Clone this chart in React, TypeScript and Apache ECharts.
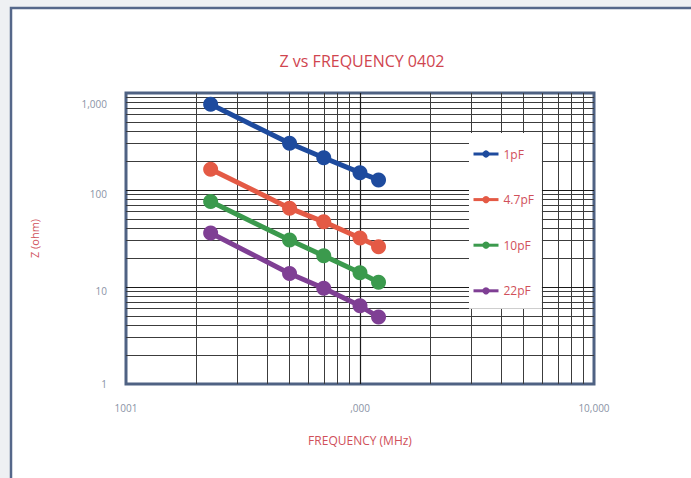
import React, { useEffect, useRef } from "react";
import * as echarts from "echarts";

const seriesNames = ["1pF", "4.7pF", "10pF", "22pF"];
const seriesColors = ["#1e4b9e", "#e45a45", "#3b9a4d", "#7f3f94"];
const frequencies = [230, 500, 700, 1000, 1200];
const z1pF = [765, 303, 215, 151, 127];
const z4p7pF = [164, 65, 47, 32, 26];
const z10pF = [76, 30.5, 21, 14, 11.2];
const z22pF = [36, 13.8, 9.7, 6.4, 4.9];
const seriesValues = [z1pF, z4p7pF, z10pF, z22pF];

const xTickValues = [100, 1000, 10000];
const xTickLabels = ["1001", ",000", "10,000"];
const yTickValues = [1, 10, 100, 1000];
const yTickLabels = ["1", "10", "100", "1,000"];

const xMinorLines = [200, 300, 400, 500, 600, 700, 800, 900, 2000, 3000, 4000, 5000, 6000, 7000, 8000, 9000];
const yMinorLines = [2, 3, 4, 5, 6, 7, 8, 9, 20, 30, 40, 50, 60, 70, 80, 90, 200, 300, 400, 500, 600, 700, 800, 900];
const yMajorLines = [10, 100];
const xMajorLines = [1000];

const FONT = "'Open Sans', 'Noto Sans', sans-serif";

export default function App() {
  const ref = useRef<HTMLDivElement>(null);
  useEffect(() => {
    if (!ref.current) return;
    const chart = echarts.init(ref.current, undefined, { renderer: "svg" });
    const lineSeries = seriesNames.map((name, i) => ({
      name,
      type: "line",
      z: 3,
      data: frequencies.map((f, j) => [f, seriesValues[i][j]]),
      symbol: "circle",
      symbolSize: 15,
      lineStyle: { width: 5, color: seriesColors[i] },
      itemStyle: { color: seriesColors[i] },
      emphasis: { disabled: true },
    }));
    const gridSeries = {
      name: "grid",
      type: "line",
      z: 1,
      data: [],
      silent: true,
      markLine: {
        z: 1,
        silent: true,
        symbol: ["none", "none"],
        label: { show: false },
        emphasis: { disabled: true },
        lineStyle: { type: "solid", color: "#3c3c3c", width: 1 },
        data: [
          ...yMinorLines.map((v) => ({ yAxis: v })),
          ...xMinorLines.map((v) => ({ xAxis: v })),
          ...yMajorLines.map((v) => ({ yAxis: v, lineStyle: { color: "#1a1a1a", width: 1.2, type: "solid" } })),
          ...xMajorLines.map((v) => ({ xAxis: v, lineStyle: { color: "#1a1a1a", width: 1.2, type: "solid" } })),
        ],
      },
    };
    const yPad = [0, 8, 8, 22];
    const yRich: any = {};
    yTickLabels.forEach((_, i) => {
      yRich["s" + i] = {
        color: "#8a93a5",
        fontSize: 10,
        fontFamily: FONT,
        padding: [yPad[i], 0, 0, 0],
      };
    });
    chart.setOption({
      animation: false,
      title: {
        text: "Z vs FREQUENCY 0402",
        left: 357,
        top: 48,
        textAlign: "center",
        textStyle: { color: "#d0454f", fontSize: 16, fontWeight: "normal", fontFamily: FONT },
      },
      graphic: [
        {
          type: "rect",
          z: -10,
          silent: true,
          shape: { x: 11, y: 8, width: 720, height: 520 },
          style: { fill: "#ffffff", stroke: "#55678a", lineWidth: 2.5 },
        },
      ],
      legend: {
        data: seriesNames,
        orient: "vertical",
        left: 469,
        top: 133,
        backgroundColor: "#ffffff",
        padding: [15, 8, 12, 3],
        itemWidth: 25,
        itemHeight: 9,
        itemGap: 33.6,
        z: 4,
        selectedMode: false,
        lineStyle: { width: 3 },
        textStyle: { color: "#d0505a", fontSize: 12, fontFamily: FONT },
      },
      grid: {
        left: 126,
        top: 93,
        right: 97,
        bottom: 94,
        show: true,
        borderColor: "#4f6283",
        borderWidth: 3,
        backgroundColor: "transparent",
      },
      xAxis: {
        type: "log",
        logBase: 10,
        min: 100,
        max: 10000,
        name: "FREQUENCY (MHz)",
        nameLocation: "middle",
        nameGap: 50,
        nameTextStyle: { color: "#d0505a", fontSize: 12, fontFamily: FONT },
        axisLine: { show: false },
        axisTick: { show: false },
        splitLine: { show: false },
        axisLabel: {
          margin: 19,
          color: "#8a93a5",
          fontSize: 10,
          fontFamily: FONT,
          formatter: (v: number) => {
            const i = xTickValues.indexOf(Math.round(v));
            return i >= 0 ? xTickLabels[i] : "";
          },
        },
      },
      yAxis: {
        type: "log",
        logBase: 10,
        min: 1,
        max: 1000,
        name: "Z (ohm)",
        nameLocation: "middle",
        nameGap: 86,
        nameTextStyle: { color: "#d0505a", fontSize: 11, fontFamily: FONT },
        axisLine: { show: false },
        axisTick: { show: false },
        splitLine: { show: false },
        axisLabel: {
          margin: 19,
          formatter: (v: number) => {
            const i = yTickValues.indexOf(Math.round(v));
            return i >= 0 ? `{s${i}|${yTickLabels[i]}}` : "";
          },
          rich: yRich,
        },
      },
      series: [gridSeries, ...lineSeries],
    });
    return () => chart.dispose();
  }, []);
  return (
    <div
      ref={ref}
      style={{ position: "absolute", left: 0, top: 0, width: 691, height: 478, background: "#eef0f3" }}
    />
  );
}
